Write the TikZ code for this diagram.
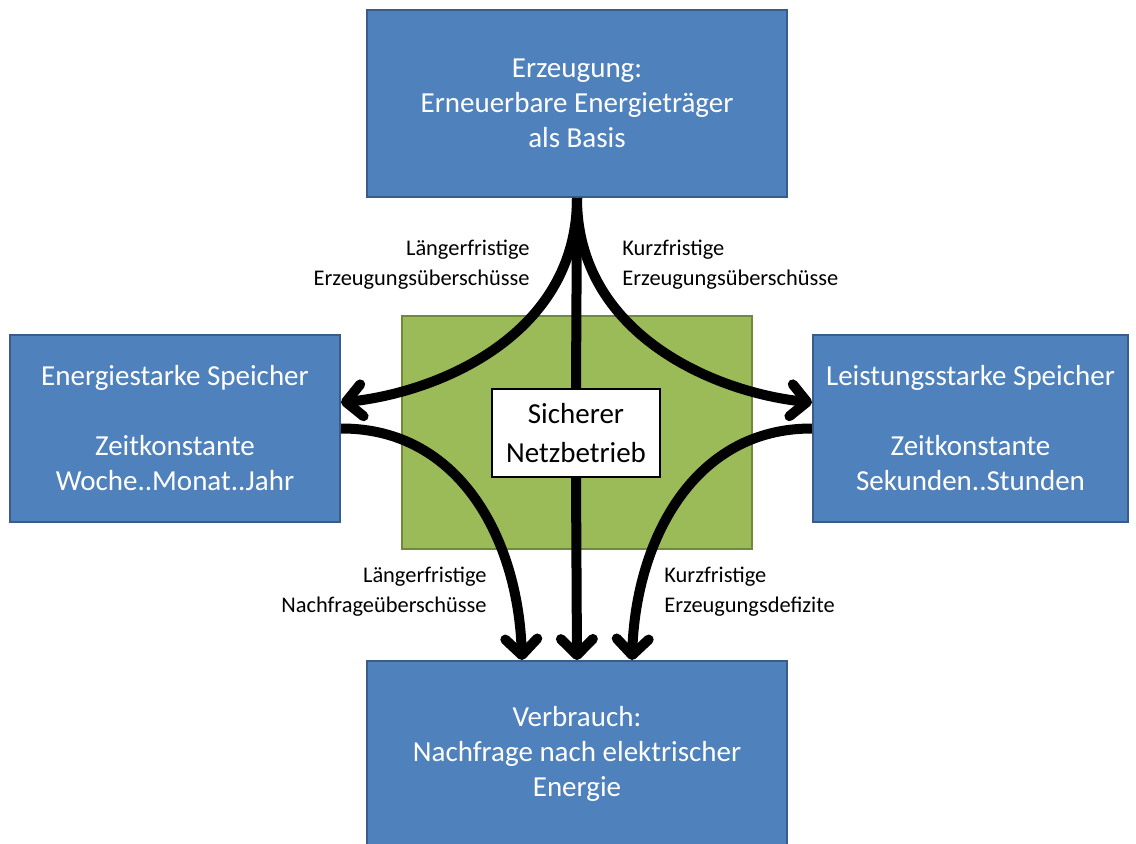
\documentclass[tikz,border=0pt]{standalone}
\usepackage{fontspec}
\setmainfont{Carlito}
\usepackage{tikz}
\usetikzlibrary{arrows.meta}

\definecolor{boxblue}{HTML}{4F81BD}
\definecolor{boxline}{HTML}{385D8A}
\definecolor{netgreen}{HTML}{9BBB59}
\definecolor{netline}{HTML}{71893F}

\begin{document}
\begin{tikzpicture}[x=0.5pt,y=-0.5pt,
  blk/.style n args={2}{draw=boxline,line width=1pt,fill=boxblue,text=white,minimum width=#1pt,minimum height=#2pt,align=center,inner sep=0pt,font=\fontsize{14.5}{17.5}\selectfont},
  lbl/.style={align=#1,inner sep=0pt,font=\fontsize{11.2}{15}\selectfont},
  flow/.style={line width=5pt,-{Straight Barb[length=8pt,width=16pt,round]}}]
\useasboundingbox[fill=white] (0,0) rectangle (1136,843);
\node[fill=netgreen,draw=netline,line width=1pt,minimum width=175pt,minimum height=116.5pt] (net) at (577,432.5) {};
\node[blk={210}{93.5}] (gen) at (577,103.5) {Erzeugung:\\Erneuerbare Energieträger\\als Basis};
\node[blk={165}{93.5}] (es) at (175,428.5) {Energiestarke Speicher\\[17.5pt]Zeitkonstante\\Woche..Monat..Jahr};
\node[blk={157.5}{93.5}] (ls) at (970.5,428.5) {Leistungsstarke Speicher\\[17.5pt]Zeitkonstante\\Sekunden..Stunden};
\node[blk={210}{93}] (use) at (577,754) {Verbrauch:\\Nachfrage nach elektrischer\\Energie};
\node[draw,fill=white,line width=1pt,minimum width=84pt,minimum height=44pt,align=center,inner sep=0pt,font=\fontsize{14.5}{19.5}\selectfont] (safe) at (576,433) {Sicherer\\Netzbetrieb};
% Speicher laden
\draw[flow] (gen.south) .. controls (577,334) and (440,392) .. ([yshift=13pt]es.east);
\draw[flow] (gen.south) .. controls (577,334) and (714,392) .. ([yshift=13pt]ls.west);
% direkt
\draw[line width=5pt] (gen.south) -- (safe.north);
\draw[flow] (safe.south) -- (use.north);
% Speicher entladen
\draw[flow] (es.east) .. controls (460,428) and (518,540) .. ([xshift=-27.5pt]use.north);
\draw[flow] (ls.west) .. controls (694,428) and (636,540) .. ([xshift=27.5pt]use.north);
\node[lbl=right,anchor=east] (l1) at (530,265) {Längerfristige\\Erzeugungsüberschüsse};
\node[lbl=left,anchor=west] (l2) at (622,265) {Kurzfristige\\Erzeugungsüberschüsse};
\node[lbl=right,anchor=east] (l3) at (487,592) {Längerfristige\\Nachfrageüberschüsse};
\node[lbl=left,anchor=west] (l4) at (664,592) {Kurzfristige\\Erzeugungsdefizite};
\end{tikzpicture}
\end{document}
